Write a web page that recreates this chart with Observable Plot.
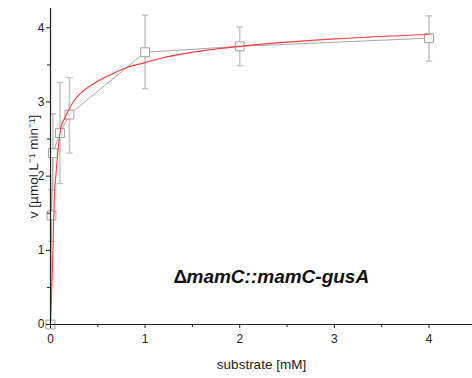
<!DOCTYPE html>
<html>
<head>
<meta charset="utf-8">
<script src="https://cdn.jsdelivr.net/npm/d3@7"></script>
<script src="https://cdn.jsdelivr.net/npm/@observablehq/plot@0.6"></script>
<style>
  html, body { margin: 0; padding: 0; background: #fff; }
  svg { font-family: "Liberation Sans", Arial, sans-serif; }
</style>
</head>
<body>
<div id="chart"></div>
<script>
// measured data (substrate in mM, velocity in µmol L-1 min-1)
const substrate = [0, 0.01, 0.025, 0.1, 0.2, 1, 2, 4];
const velocity  = [0, 1.47, 2.31, 2.58, 2.83, 3.67, 3.75, 3.86];
const errLow    = [null, 1.12, 1.81, 1.90, 2.31, 3.18, 3.49, 3.55];
const errHigh   = [null, 1.82, 2.84, 3.26, 3.33, 4.17, 4.01, 4.16];

// fitted curve
const fitS = [0, 0.013, 0.026, 0.04, 0.058, 0.08, 0.111, 0.15, 0.18, 0.25, 0.32, 0.46, 0.64, 0.82, 1, 1.17, 1.5, 2, 3, 4];
const fitV = [0, 0.5, 1.0, 1.7, 2.03, 2.35, 2.66, 2.78, 2.86, 3.02, 3.12, 3.25, 3.37, 3.47, 3.53, 3.59, 3.67, 3.75, 3.85, 3.91];

const xMajor = [0, 1, 2, 3, 4];
const xMinor = [0.5, 1.5, 2.5, 3.5];
const yMajor = [0, 1, 2, 3, 4];
const yMinor = [0.5, 1.5, 2.5, 3.5];

const xLabel = "substrate [mM]";
const yLabel = "v [µmol L\u207B\u00B9 min\u207B\u00B9]";
const strainDelta = "\u0394";
const strainName = "mamC::mamC-gusA";
const strainPos = {x: 1.30, y: 0.64};

const points = substrate.map((s, i) => ({s, v: velocity[i], lo: errLow[i], hi: errHigh[i]}));
const bars = points.filter(d => d.lo != null);
const fit = fitS.map((s, i) => ({s, v: fitV[i]}));

const capSymbol = {
  draw(context, size) {
    const r = Math.sqrt(size / Math.PI);
    context.moveTo(-r, 0);
    context.lineTo(r, 0);
  }
};

const axisColor = "#222";
const noLabel = () => "";

const chart = Plot.plot({
  width: 472,
  height: 378,
  marginLeft: 50,
  marginRight: 0,
  marginTop: 8,
  marginBottom: 54,
  style: {fontFamily: "Liberation Sans, Arial, sans-serif", fontSize: "12px", color: axisColor, background: "#fff"},
  x: {domain: [0, 4.46]},
  y: {domain: [0, 4.26]},
  marks: [
    // error bars
    Plot.ruleX(bars, {x: "s", y1: "lo", y2: "hi", stroke: "#c8c8c8", strokeWidth: 1.6}),
    Plot.dot(bars, {x: "s", y: "lo", symbol: capSymbol, r: 3.2, stroke: "#c0c0c0", fill: "none", strokeWidth: 1.3}),
    Plot.dot(bars, {x: "s", y: "hi", symbol: capSymbol, r: 3.2, stroke: "#c0c0c0", fill: "none", strokeWidth: 1.3}),
    // connecting line
    Plot.line(points, {x: "s", y: "v", stroke: "#a8a8a8", strokeWidth: 1}),
    // markers
    Plot.dot(points, {x: "s", y: "v", symbol: "square", r: 5, stroke: "#a0a0a0", fill: "white", strokeWidth: 1}),
    // fit curve
    Plot.line(fit, {x: "s", y: "v", curve: "monotone-x", stroke: "#ff3b3b", strokeWidth: 1.1}),
    // axes
    Plot.axisX({ticks: xMajor, tickSize: 4, tickPadding: 6, tickFormat: d3.format("d"), fontSize: 12,
      label: xLabel, labelAnchor: "center", labelArrow: "none", labelOffset: 44}),
    Plot.axisX({ticks: xMinor, tickSize: 3, tickFormat: noLabel, label: null}),
    Plot.axisY({ticks: yMajor, tickSize: 4, tickPadding: 2, tickFormat: d3.format("d"), fontSize: 12,
      label: yLabel, labelAnchor: "center", labelArrow: "none", labelOffset: 22}),
    Plot.axisY({ticks: yMinor, tickSize: 3, tickFormat: noLabel, label: null}),
    Plot.ruleY([0], {stroke: axisColor, strokeWidth: 1.2}),
    Plot.ruleX([0], {stroke: axisColor, strokeWidth: 1.2}),
    // annotation
    Plot.text([strainDelta], {x: () => strainPos.x, y: () => strainPos.y, text: d => d, textAnchor: "start",
      fontSize: 19, fontWeight: "bold", fill: "#111"}),
    Plot.text([strainName], {x: () => strainPos.x, y: () => strainPos.y, text: d => d, textAnchor: "start",
      dx: 13, fontSize: 19, fontWeight: "bold", fontStyle: "italic", fill: "#111"})
  ]
});

// axis title font sizes
chart.querySelectorAll("[aria-label='x-axis label'] text, [aria-label='y-axis label'] text").forEach(t => t.setAttribute("font-size", "13.5"));

document.getElementById("chart").appendChild(chart);
</script>
</body>
</html>
